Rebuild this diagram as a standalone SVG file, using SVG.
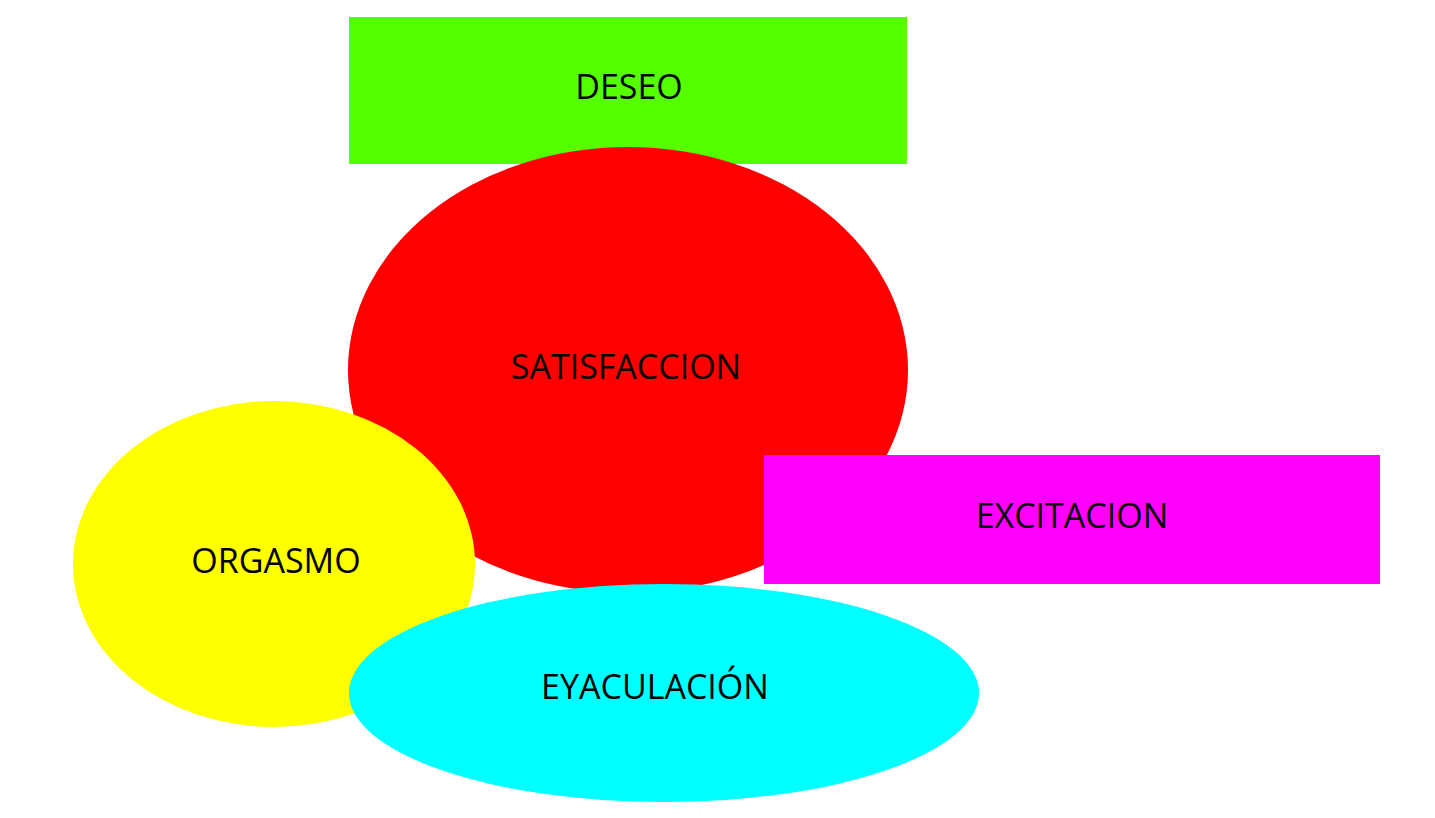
<svg xmlns="http://www.w3.org/2000/svg" width="1435" height="818" viewBox="0 0 1435 818">
<style>
.lbl{font-family:"Open Sans","Noto Sans","Liberation Sans",sans-serif;font-size:34px;fill:#000;text-anchor:middle}
</style>
<rect width="1435" height="818" fill="#fff"/>
<g id="deseo"><rect x="349" y="17" width="558" height="147" fill="#55ff00"/><text class="lbl" x="629" y="99">DESEO</text></g>
<g id="satisfaccion"><ellipse cx="628" cy="370" rx="280" ry="223" fill="#ff0000"/><text class="lbl" x="626" y="379">SATISFACCION</text></g>
<g id="orgasmo"><ellipse cx="274" cy="564" rx="201" ry="163" fill="#ffff00"/><text class="lbl" x="276" y="573">ORGASMO</text></g>
<g id="excitacion"><rect x="764" y="455" width="616" height="129" fill="#ff00ff"/><text class="lbl" x="1072" y="528">EXCITACION</text></g>
<g id="eyaculacion"><ellipse cx="664" cy="693" rx="315" ry="109" fill="#00ffff"/><text class="lbl" x="655" y="699">EYACULACIÓN</text></g>
<g id="connectors"/>
</svg>
